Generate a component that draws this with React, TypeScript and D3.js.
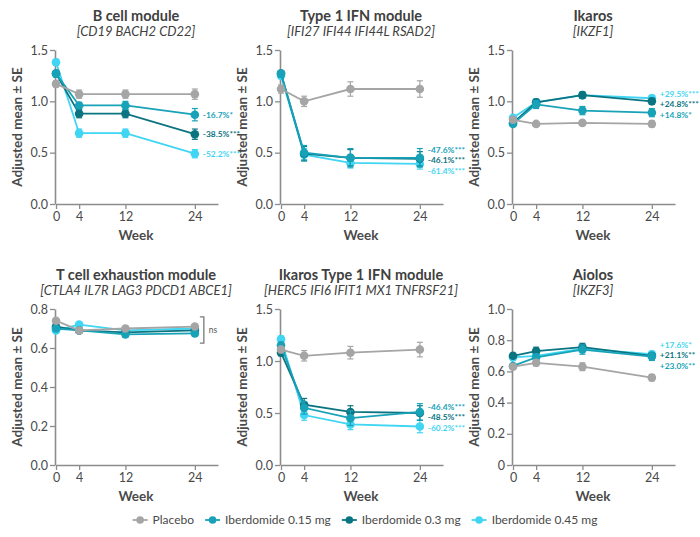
import { useEffect, useRef } from "react";
import * as d3 from "d3";

const weeks = [0, 4, 12, 24];
const seriesNames = ["Placebo", "Iberdomide 0.15 mg", "Iberdomide 0.3 mg", "Iberdomide 0.45 mg"];
const seriesColors = ["#a5a5a5", "#17a2b8", "#0b7481", "#3fd5f3"];
// draw order: 0.45, 0.3, 0.15, placebo
const drawOrder = [3, 2, 1, 0];

// B cell module
const bCellMeans = [
  [1.17, 1.07, 1.07, 1.07],
  [1.27, 0.96, 0.96, 0.87],
  [1.27, 0.88, 0.88, 0.68],
  [1.38, 0.69, 0.69, 0.49],
];
const bCellSE = [
  [0.03, 0.04, 0.04, 0.05],
  [0.03, 0.03, 0.04, 0.06],
  [0.03, 0.04, 0.04, 0.05],
  [0.03, 0.04, 0.04, 0.04],
];
const bCellLabels = ["", "-16.7%*", "-38.5%***", "-52.2%***"];

// Type 1 IFN module
const ifnMeans = [
  [1.12, 1.0, 1.12, 1.12],
  [1.27, 0.5, 0.45, 0.45],
  [1.27, 0.49, 0.45, 0.44],
  [1.25, 0.48, 0.4, 0.39],
];
const ifnSE = [
  [0.04, 0.05, 0.07, 0.08],
  [0.03, 0.07, 0.09, 0.09],
  [0.03, 0.07, 0.08, 0.07],
  [0.03, 0.06, 0.05, 0.05],
];
const ifnLabels = ["", "-47.6%***", "-46.1%***", "-61.4%***"];

// Ikaros
const ikarosMeans = [
  [0.82, 0.78, 0.79, 0.78],
  [0.78, 0.97, 0.91, 0.89],
  [0.79, 0.99, 1.06, 1.0],
  [0.84, 0.99, 1.06, 1.03],
];
const ikarosSE = [
  [0.02, 0.02, 0.02, 0.03],
  [0.02, 0.04, 0.04, 0.04],
  [0.02, 0.03, 0.03, 0.03],
  [0.02, 0.03, 0.03, 0.03],
];
const ikarosLabels = ["", "+14.8%*", "+24.8%***", "+29.5%***"];

// T cell exhaustion module
const tcellMeans = [
  [0.74, 0.69, 0.7, 0.71],
  [0.7, 0.69, 0.67, 0.675],
  [0.71, 0.69, 0.68, 0.69],
  [0.69, 0.72, 0.69, 0.7],
];
const tcellSE = [
  [0.01, 0.01, 0.01, 0.01],
  [0.01, 0.01, 0.015, 0.015],
  [0.01, 0.01, 0.015, 0.015],
  [0.01, 0.01, 0.01, 0.01],
];
const tcellLabels = ["", "", "", ""];

// Ikaros Type 1 IFN module
const ikIfnMeans = [
  [1.11, 1.05, 1.08, 1.11],
  [1.15, 0.55, 0.45, 0.51],
  [1.08, 0.58, 0.51, 0.5],
  [1.21, 0.48, 0.39, 0.37],
];
const ikIfnSE = [
  [0.03, 0.05, 0.06, 0.07],
  [0.03, 0.06, 0.07, 0.08],
  [0.03, 0.06, 0.06, 0.07],
  [0.03, 0.05, 0.05, 0.06],
];
const ikIfnLabels = ["", "-46.4%***", "-48.5%***", "-60.2%***"];

// Aiolos
const aiolosMeans = [
  [0.63, 0.655, 0.63, 0.56],
  [0.635, 0.69, 0.74, 0.695],
  [0.7, 0.73, 0.755, 0.7],
  [0.69, 0.7, 0.745, 0.71],
];
const aiolosSE = [
  [0.015, 0.02, 0.025, 0.02],
  [0.015, 0.02, 0.03, 0.025],
  [0.015, 0.025, 0.025, 0.02],
  [0.015, 0.02, 0.025, 0.02],
];
const aiolosLabels = ["", "+23.0%**", "+21.1%**", "+17.6%*"];

const panels = [
  { title: "B cell module", genes: "[CD19 BACH2 CD22]", yMax: 1.5, yTicks: [0, 0.5, 1, 1.5], means: bCellMeans, se: bCellSE, labels: bCellLabels },
  { title: "Type 1 IFN module", genes: "[IFI27 IFI44 IFI44L RSAD2]", yMax: 1.5, yTicks: [0, 0.5, 1, 1.5], means: ifnMeans, se: ifnSE, labels: ifnLabels },
  { title: "Ikaros", genes: "[IKZF1]", yMax: 1.5, yTicks: [0, 0.5, 1, 1.5], means: ikarosMeans, se: ikarosSE, labels: ikarosLabels },
  { title: "T cell exhaustion module", genes: "[CTLA4 IL7R LAG3 PDCD1 ABCE1]", yMax: 0.8, yTicks: [0, 0.2, 0.4, 0.6, 0.8], means: tcellMeans, se: tcellSE, labels: tcellLabels, ns: true },
  { title: "Ikaros Type 1 IFN module", genes: "[HERC5 IFI6 IFIT1 MX1 TNFRSF21]", yMax: 1.5, yTicks: [0, 0.5, 1, 1.5], means: ikIfnMeans, se: ikIfnSE, labels: ikIfnLabels },
  { title: "Aiolos", genes: "[IKZF3]", yMax: 1.0, yTicks: [0, 0.2, 0.4, 0.6, 0.8, 1.0], means: aiolosMeans, se: aiolosSE, labels: aiolosLabels, zeroPlain: true },
];

const FONT = "Lato, 'Open Sans', sans-serif";
const colX = [56, 281, 513];
const rowTop = [50, 309];
const rowBottom = [204, 465];
const PLOT_W = 162;

export default function App() {
  const ref = useRef<SVGSVGElement>(null);

  useEffect(() => {
    const svg = d3.select(ref.current);
    svg.selectAll("*").remove();

    panels.forEach((p, pi) => {
      const x0 = colX[pi % 3];
      const yTop = rowTop[Math.floor(pi / 3)];
      const yBot = rowBottom[Math.floor(pi / 3)];
      const x = d3.scaleLinear().domain([0, 28]).range([x0, x0 + PLOT_W]);
      const y = d3.scaleLinear().domain([0, p.yMax]).range([yBot, yTop]);
      const g = svg.append("g");

      // titles
      g.append("text")
        .attr("x", x0 + PLOT_W / 2 - 1)
        .attr("y", yTop - 29)
        .attr("text-anchor", "middle")
        .attr("font-size", 14.5)
        .attr("font-weight", "bold")
        .attr("fill", "#404040")
        .text(p.title);
      g.append("text")
        .attr("x", x0 + PLOT_W / 2 - 1)
        .attr("y", yTop - 14)
        .attr("text-anchor", "middle")
        .attr("font-size", 13)
        .attr("font-style", "italic")
        .attr("fill", "#404040")
        .text(p.genes);

      // axes
      const fmt = (d: number) => (p.zeroPlain && d === 0 ? "0" : d3.format(".1f")(d));
      const yAxis = g
        .append("g")
        .attr("transform", `translate(${x0 - 1},0)`)
        .call(d3.axisLeft(y).tickValues(p.yTicks).tickFormat(fmt as any).tickSize(5).tickSizeOuter(0).tickPadding(2));
      const xAxis = g
        .append("g")
        .attr("transform", `translate(0,${yBot})`)
        .call(d3.axisBottom(x).tickValues(weeks).tickSize(5).tickSizeOuter(0).tickPadding(3));
      [yAxis, xAxis].forEach((a) => {
        a.select(".domain").attr("stroke", "#8c8c8c").attr("stroke-width", 1.6);
        a.selectAll(".tick line").attr("stroke", "#8c8c8c").attr("stroke-width", 1.3);
        a.selectAll(".tick text").attr("fill", "#4a4a4a").attr("font-size", 12.5).attr("font-family", FONT);
      });

      g.append("text")
        .attr("transform", `translate(${x0 - 34},${(yTop + yBot) / 2}) rotate(-90)`)
        .attr("text-anchor", "middle")
        .attr("font-size", 13.5)
        .attr("font-weight", "bold")
        .attr("fill", "#4a4a4a")
        .text("Adjusted mean ± SE");
      g.append("text")
        .attr("x", x0 + PLOT_W / 2 - 1)
        .attr("y", yBot + 36)
        .attr("text-anchor", "middle")
        .attr("font-size", 13.5)
        .attr("font-weight", "bold")
        .attr("fill", "#4a4a4a")
        .text("Week");

      const line = d3
        .line<number>()
        .x((_, i) => x(weeks[i]))
        .y((d) => y(d));

      drawOrder.forEach((si) => {
        const c = seriesColors[si];
        const m = p.means[si];
        const s = p.se[si];
        g.append("path").datum(m).attr("d", line).attr("fill", "none").attr("stroke", c).attr("stroke-width", 1.8);
        const eb = g.append("g").attr("stroke", c).attr("stroke-width", 1.2);
        m.forEach((v, i) => {
          const cx = x(weeks[i]);
          eb.append("line").attr("x1", cx).attr("x2", cx).attr("y1", y(v - s[i])).attr("y2", y(v + s[i]));
          eb.append("line").attr("x1", cx - 3).attr("x2", cx + 3).attr("y1", y(v - s[i])).attr("y2", y(v - s[i]));
          eb.append("line").attr("x1", cx - 3).attr("x2", cx + 3).attr("y1", y(v + s[i])).attr("y2", y(v + s[i]));
        });
        g.append("g")
          .selectAll("circle")
          .data(m)
          .join("circle")
          .attr("cx", (_, i) => x(weeks[i]))
          .attr("cy", (d) => y(d))
          .attr("r", 4.3)
          .attr("fill", c);
      });

      // end labels, spread apart so they don't overlap
      const labs = p.labels
        .map((t, si) => ({ t, si, py: y(p.means[si][3]) }))
        .filter((d) => d.t)
        .sort((a, b) => a.py - b.py);
      const gap = 10.5;
      for (let iter = 0; iter < 50; iter++) {
        let moved = false;
        for (let k = 1; k < labs.length; k++) {
          const dist = labs[k].py - labs[k - 1].py;
          if (dist < gap - 0.01) {
            const diff = gap - dist;
            labs[k - 1].py -= diff / 2;
            labs[k].py += diff / 2;
            moved = true;
          }
        }
        if (!moved) break;
      }
      labs.forEach((d) => {
        g.append("text")
          .attr("x", x(24) + 8)
          .attr("y", d.py)
          .attr("dy", "0.35em")
          .attr("font-size", 8.4)
          .attr("font-weight", "bold")
          .attr("fill", seriesColors[d.si])
          .text(d.t);
      });

      if (p.ns) {
        const last = p.means.map((m) => m[3]);
        const hi = y((d3.max(last) as number) + 0.05);
        const lo = y((d3.min(last) as number) - 0.05);
        const bx = x(24) + 9;
        g.append("path")
          .attr("d", `M${bx - 4},${hi}H${bx}V${lo}H${bx - 4}`)
          .attr("fill", "none")
          .attr("stroke", "#7a7a7a")
          .attr("stroke-width", 1.3);
        g.append("text")
          .attr("x", bx + 5)
          .attr("y", (hi + lo) / 2)
          .attr("dy", "0.35em")
          .attr("font-size", 8.5)
          .attr("fill", "#555")
          .text("ns");
      }
    });

    // legend: items laid out from measured text widths, centred
    const lg = svg.append("g").attr("transform", "translate(0,520)");
    const items = seriesNames.map((name, i) => {
      const it = lg.append("g");
      it.append("line").attr("x1", 0).attr("x2", 15).attr("y1", 0).attr("y2", 0).attr("stroke", seriesColors[i]).attr("stroke-width", 1.8);
      it.append("circle").attr("cx", 7.5).attr("cy", 0).attr("r", 3.8).attr("fill", seriesColors[i]);
      const t = it
        .append("text")
        .attr("x", 20)
        .attr("y", 0)
        .attr("dy", "0.35em")
        .attr("font-size", 12)
        .attr("fill", "#4a4a4a")
        .text(name);
      const w = 20 + (t.node() as SVGTextElement).getComputedTextLength();
      return { it, w };
    });
    const spacing = 11;
    const total = d3.sum(items, (d) => d.w) + spacing * (items.length - 1);
    let cx = 365 - total / 2;
    items.forEach((d) => {
      d.it.attr("transform", `translate(${cx},0)`);
      cx += d.w + spacing;
    });
  }, []);

  return (
    <svg
      ref={ref}
      width={700}
      height={537}
      style={{ position: "absolute", left: 0, top: 0, background: "#fff", fontFamily: FONT }}
    />
  );
}
